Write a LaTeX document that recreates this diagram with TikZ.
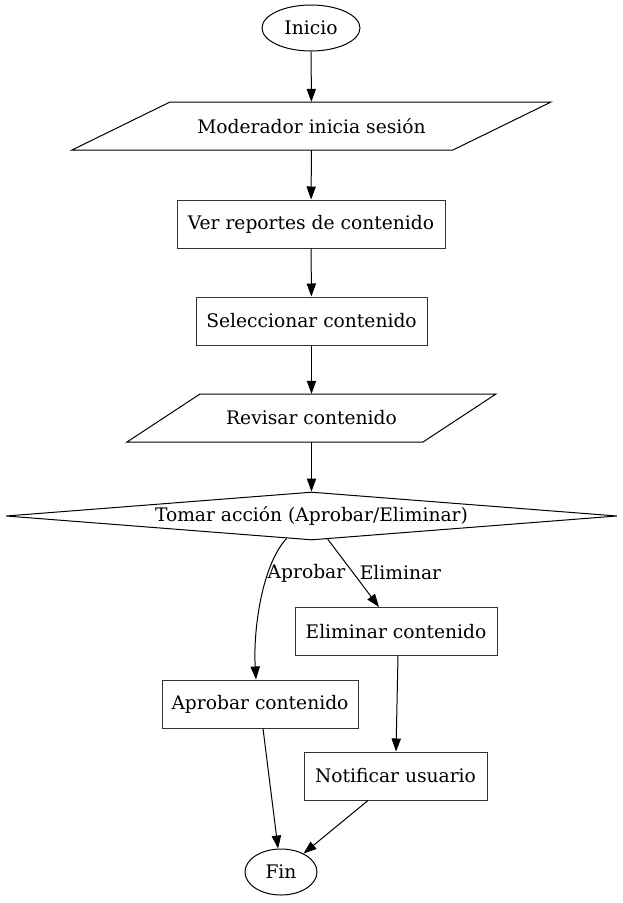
\documentclass[tikz,border=0pt]{standalone}
\usepackage{fontspec}
\setmainfont{DejaVu Serif}
\usetikzlibrary{arrows.meta,shapes.geometric}
\begin{document}
\begin{tikzpicture}[x=1pt,y=-1pt,
  every node/.style={font=\fontsize{18.67}{22}\selectfont, inner sep=0pt},
  oval/.style={draw, ellipse, line width=1pt},
  box/.style={draw=black!80, rectangle, line width=1pt, minimum height=48pt},
  paratext/.style={rectangle, minimum height=48pt},
  paraline/.style={line width=1pt},
  dia/.style={draw, diamond, aspect=12.73, line width=1pt, minimum width=611pt, minimum height=48pt},
  arr/.style={-{Triangle[length=13pt,width=9.3pt]}, line width=1pt},
  lab/.style={font=\fontsize{18.67}{22}\selectfont}
]
\useasboundingbox (0,0) rectangle (623,903);
\node[oval, minimum width=98pt, minimum height=46pt] (inicio) at (311,28) {Inicio};
\node[paratext, minimum width=283pt] (mod) at (311.5,126) {Moderador inicia sesión};
\draw[paraline] (72,150) -- (170,102) -- (551,102) -- (453,150) -- cycle;
\node[box, minimum width=268pt] (ver) at (311,224) {Ver reportes de contenido};
\node[box, minimum width=231pt] (sel) at (311.5,321) {Seleccionar contenido};
\node[paratext, minimum width=223pt] (rev) at (311.5,418) {Revisar contenido};
\draw[paraline] (127,442) -- (200,394) -- (496,394) -- (423,442) -- cycle;
\node[dia] (tom) at (311.5,516) {Tomar acción (Aprobar/Eliminar)};
\node[box, minimum width=202pt] (eli) at (396,631.5) {Eliminar contenido};
\node[box, minimum width=196pt] (apr) at (260,704) {Aprobar contenido};
\node[box, minimum width=183pt] (noti) at (395.5,776) {Notificar usuario};
\node[oval, minimum width=72pt, minimum height=46pt] (fin) at (281,872) {Fin};

\draw[arr] (inicio) -- (mod);
\draw[arr] (mod) -- (ver);
\draw[arr] (ver) -- (sel);
\draw[arr] (sel) -- (rev);
\draw[arr] (rev) -- (tom);
\draw[arr] (tom.-138) .. controls (262,565) and (253,630) .. (apr.north -| 256,0);
\draw[arr] (tom.-55) -- (eli.north -| 379,0);
\draw[arr] (eli.south -| 398,0) -- (noti.north -| 396,0);
\draw[arr] (apr.south -| 263,0) -- (fin);
\draw[arr] (noti.south -| 368,0) -- (fin);
\node[lab] (la) at (306.5,573) {Aprobar};
\node[lab] (le) at (400.5,573) {Eliminar};
\end{tikzpicture}
\end{document}
